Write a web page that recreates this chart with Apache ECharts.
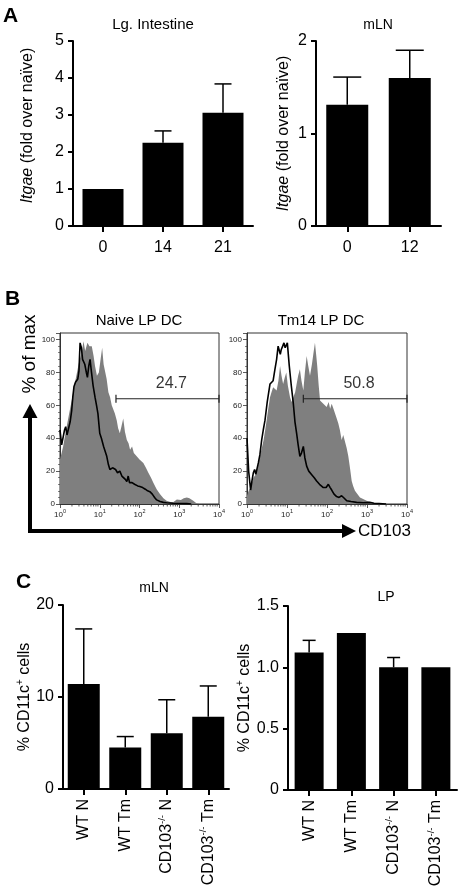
<!DOCTYPE html>
<html><head><meta charset="utf-8">
<script src="https://cdn.jsdelivr.net/npm/echarts@6/dist/echarts.min.js"></script>
<style>html,body{margin:0;padding:0;background:#fff}#c{width:460px;height:892px}</style>
</head><body><div id="c"></div>
<script>
const FONT = '"Liberation Sans", Arial, Helvetica, sans-serif';

// ---------- Panel A ----------
const a1Categories = ['0', '14', '21'];
const a1Values = [1.0, 2.25, 3.06];
const a1Errors = [0, 0.32, 0.78];
const a1YTicks = [0, 1, 2, 3, 4, 5];

const a2Categories = ['0', '12'];
const a2Values = [1.31, 1.60];
const a2Errors = [0.30, 0.30];
const a2YTicks = [0, 1, 2];

// ---------- Panel B (histograms, CD103 on log axis, % of max) ----------
const naiveGray = [[1,27],[1.2,35],[1.47,47],[1.7,55],[1.97,63],[2.3,72],[2.63,79],[3.0,86],[3.5,92],[3.9,99],[4.3,93],[4.9,98],[5.5,96],[6.3,96],[7.0,90],[7.6,84],[8.5,78],[9.5,80],[10.5,88],[11.5,95],[12.5,85],[14.9,76],[16.5,68],[18.2,65],[20,60],[22,59],[24,55],[26.7,51],[29,46],[32,43],[35,47],[39,52],[43,44],[48,39],[53,37],[58,33],[65,35],[72,31],[85,29],[100,27],[125,25],[145,22],[167,19],[195,16],[223,13],[270,9],[330,6],[400,3.5],[480,2],[600,1.2],[700,1],[870,2.8],[1100,2.5],[1300,3.5],[1550,4],[1800,3.5],[2250,2],[2700,0.5],[3200,0],[10000,0]];
const naiveLine = [[1,45],[1.1,36],[1.21,37],[1.3,45],[1.39,47],[1.5,42],[1.62,41],[1.8,50],[1.97,57],[2.1,65],[2.25,71.5],[2.45,74],[2.63,73],[2.8,76],[3.0,81],[3.2,98],[3.45,95],[3.7,88],[4.2,85],[4.6,80],[4.9,77],[5.3,84],[5.7,88],[6.2,80],[6.8,72],[7.6,65],[8.3,60],[9.0,55],[10,43],[11,40],[12.5,35],[15,29],[16.5,24],[18,21],[21,22],[25,21],[28,19],[32,20],[36,17],[40,16],[44,15],[48,13.6],[52,17],[56,13],[65,13],[75,12],[90,11],[102,10.6],[120,10],[140,9],[160,8],[182,7.5],[210,6],[240,4],[270,2.5],[330,1.5],[400,1],[480,0.8],[700,0.5],[1000,0.3],[1550,0.2],[2000,0]];
const tmGray = [[1,5],[1.1,8],[1.23,10],[1.44,16],[1.66,18],[1.9,24],[2.1,29],[2.35,34],[2.6,39],[2.85,45],[3.1,51],[3.4,58],[3.76,65],[4.1,68],[4.5,71],[5.0,70],[5.5,69],[6.1,75],[6.7,84],[7.3,78],[8.0,73],[8.8,77],[9.6,80],[10.5,72],[11.9,65],[13,62],[14.4,63],[16,68],[17.4,73],[19,78],[21,82],[23,75],[25.6,69],[28,80],[31,90],[34,84],[37.6,78],[42,85],[46,92],[50,98],[54,90],[57,84],[62,72],[67,63],[74,64],[81,61],[90,60],[98,59],[110,62],[120,58],[131,61],[145,58],[158,57],[175,52],[192,49],[210,45],[232,39],[255,42],[282,41],[310,34],[341,29],[375,22],[414,14],[450,11],[500,8],[580,6],[668,4],[800,3],[980,2],[1200,1],[1500,0.5],[2000,0],[10000,0]];
const tmLine = [[1,40],[1.1,20],[1.23,8.5],[1.33,14],[1.44,19],[1.55,21],[1.66,18],[1.8,22],[1.92,25],[2.1,30],[2.33,39],[2.55,45],[2.82,51],[3.2,62],[3.76,73],[4.1,74],[4.5,75],[5.0,82],[5.5,88],[6.0,96],[6.4,95],[6.8,91],[7.2,94],[7.8,96],[8.4,98],[9.0,95],[9.4,96],[10.2,98],[11.4,84],[12.8,72],[14.4,61],[15.8,50],[17.4,43],[19,36],[21,29],[23,31],[25.6,35],[28,28],[31,23],[35,20],[41,18],[48,16],[55,14],[65,12],[81,10],[95,10],[108,12],[120,10],[131,8.5],[150,6],[174,4.5],[200,4],[232,5],[270,3.5],[311,2],[400,1.5],[550,1],[800,0.8],[1170,1],[1500,0.5],[2000,0.3],[3000,0]];
const histTitles = ['Naive LP DC', 'Tm14 LP DC'];
const gateRanges = [[25.6, 10000], [25.6, 10000]];
const gateLevel = [64, 64];
const gateLabels = ['24.7', '50.8'];
const histYTicks = [0, 20, 40, 60, 80, 100];
const histDecades = [1, 10, 100, 1000, 10000];

// ---------- Panel C ----------
const cCategories = ['WT N', 'WT Tm', 'CD103-/- N', 'CD103-/- Tm'];
const c1Values = [11.4, 4.5, 6.05, 7.85];
const c1Errors = [6.0, 1.2, 3.65, 3.35];
const c1YTicks = [0, 10, 20];
const c2Values = [1.12, 1.28, 1.0, 1.0];
const c2Errors = [0.10, 0, 0.08, 0];
const c2YTicks = [0, 0.5, 1.0, 1.5];

// ---------- helpers ----------
const supRich = {
  n: {fontFamily: FONT, fontSize: 16, color: '#000', verticalAlign: 'middle', lineHeight: 19},
  sup: {fontFamily: FONT, fontSize: 9.5, color: '#000', verticalAlign: 'top', lineHeight: 19},
  t: {fontFamily: FONT, fontSize: 16, color: '#000', verticalAlign: 'middle', lineHeight: 19},
  tsup: {fontFamily: FONT, fontSize: 10, color: '#000', verticalAlign: 'top', lineHeight: 19},
  i: {fontFamily: FONT, fontSize: 16, fontStyle: 'italic', color: '#000', verticalAlign: 'middle', lineHeight: 19}
};

function errRender(capHalf) {
  return function (params, api) {
    const i = api.value(0), v = api.value(1), e = api.value(2);
    if (!e) return null;
    const p0 = api.coord([i, v]);
    const p1 = api.coord([i, v + e]);
    return {type: 'group', children: [
      {type: 'line', shape: {x1: p0[0], y1: p0[1], x2: p1[0], y2: p1[1]}, style: {stroke: '#000', lineWidth: 1.5}},
      {type: 'line', shape: {x1: p1[0] - capHalf, y1: p1[1], x2: p1[0] + capHalf, y2: p1[1]}, style: {stroke: '#000', lineWidth: 1.5}}
    ]};
  };
}

function minorLogRender(params, api) {
  const p = api.coord([api.value(0), 0]);
  return {type: 'line', shape: {x1: p[0], y1: p[1], x2: p[0], y2: p[1] + 2.5}, style: {stroke: '#333', lineWidth: 0.8}};
}
const minorLogTicks = [];
histDecades.slice(0, -1).forEach(d => { for (let m = 2; m <= 9; m++) minorLogTicks.push([m * d, 0]); });

function barYAxis(grid, ticks, name, nameGap, fmt, namePad) {
  return {
    type: 'value', gridIndex: grid, min: ticks[0], max: ticks[ticks.length - 1],
    interval: ticks[1] - ticks[0],
    axisLine: {show: true, lineStyle: {color: '#000', width: 2}},
    axisTick: {show: true, length: 5, lineStyle: {color: '#000', width: 2}},
    splitLine: {show: false},
    axisLabel: {fontFamily: FONT, fontSize: 16, color: '#000', margin: 9, formatter: fmt},
    name: name, nameLocation: 'middle', nameRotate: 90, nameGap: nameGap,
    nameTextStyle: {fontFamily: FONT, fontSize: 16, color: '#000', rich: supRich, padding: namePad || 0}
  };
}
function barXAxis(grid, cats, opts) {
  return Object.assign({
    type: 'category', gridIndex: grid, data: cats,
    axisLine: {show: true, lineStyle: {color: '#000', width: 2}},
    axisTick: {show: true, alignWithLabel: true, length: 6, lineStyle: {color: '#000', width: 2}},
    axisLabel: {fontFamily: FONT, fontSize: 16, color: '#000', margin: 14},
    splitLine: {show: false}
  }, opts || {});
}
function histXAxis(grid) {
  return {
    type: 'log', logBase: 10, gridIndex: grid, min: histDecades[0], max: histDecades[histDecades.length - 1],
    axisLine: {show: true, lineStyle: {color: '#333', width: 1}},
    axisTick: {show: true, length: 4, lineStyle: {color: '#333', width: 0.8}},
    splitLine: {show: false},
    axisLabel: {margin: 4, color: '#222', fontFamily: FONT, fontSize: 8,
      formatter: v => '{b|10}{s|' + Math.round(Math.log10(v)) + '}',
      rich: {b: {fontFamily: FONT, fontSize: 8, color: '#222', verticalAlign: 'bottom', lineHeight: 11},
             s: {fontFamily: FONT, fontSize: 5.5, color: '#222', verticalAlign: 'top', lineHeight: 11}}}
  };
}
function histYAxis(grid) {
  return {
    type: 'value', gridIndex: grid, min: 0, max: 104, interval: histYTicks[1] - histYTicks[0],
    axisLine: {show: true, lineStyle: {color: '#333', width: 1}},
    axisTick: {show: true, length: 4, lineStyle: {color: '#333', width: 0.8}},
    minorTick: {show: true, splitNumber: 5, length: 2, lineStyle: {color: '#333', width: 0.6}},
    splitLine: {show: false},
    axisLabel: {margin: 5, color: '#222', fontFamily: FONT, fontSize: 8,
      formatter: v => histYTicks.indexOf(v) >= 0 ? String(v) : ''}
  };
}
function histSeries(ax, gray, line, gi) {
  const r = gateRanges[gi];
  const mid = Math.sqrt(r[0] * r[1]) * 1.25;
  return [
    {type: 'line', xAxisIndex: ax, yAxisIndex: ax, data: gray, showSymbol: false, symbol: 'none',
     lineStyle: {width: 0}, areaStyle: {color: '#7f7f7f', opacity: 1}, z: 2, silent: true},
    {type: 'line', xAxisIndex: ax, yAxisIndex: ax, data: line, showSymbol: false, symbol: 'none',
     lineStyle: {width: 1.6, color: '#000'}, z: 3, silent: true},
    {type: 'custom', xAxisIndex: ax, yAxisIndex: ax, data: minorLogTicks, renderItem: minorLogRender, encode: {x: 0, y: 1}, z: 4, silent: true},
    {type: 'line', xAxisIndex: ax, yAxisIndex: ax, data: [[r[0], gateLevel[gi]], [r[1], gateLevel[gi]]],
     symbol: 'rect', symbolSize: [1.2, 8], showSymbol: true, clip: false,
     itemStyle: {color: '#222'}, lineStyle: {color: '#222', width: 1.2}, z: 5, silent: true},
    {type: 'scatter', xAxisIndex: ax, yAxisIndex: ax, data: [[mid, gateLevel[gi]]], symbolSize: 0,
     label: {show: true, position: 'top', distance: 7, formatter: gateLabels[gi], fontFamily: FONT, fontSize: 16, color: '#000'}, z: 6, silent: true}
  ];
}

const cLabelFmt = v => {
  const idx = v.indexOf('-/-');
  if (idx < 0) return '{n|' + v + '}';
  return '{n|' + v.slice(0, idx) + '}{sup|-/-}{n|' + v.slice(idx + 3) + '}';
};

const itgaeName = '{i|Itgae}{t| (fold over naïve)}';
const cd11cName = '{t|% CD11c}{tsup|+}{t| cells}';

const option = {
  animation: false,
  backgroundColor: '#fff',
  textStyle: {fontFamily: FONT},
  grid: [
    {left: 73, top: 41, width: 180, height: 185},
    {left: 316, top: 41, width: 125, height: 185},
    {left: 60, top: 333, width: 159, height: 171, show: true, borderColor: '#333', borderWidth: 1, backgroundColor: 'transparent'},
    {left: 247, top: 333, width: 160, height: 171, show: true, borderColor: '#333', borderWidth: 1, backgroundColor: 'transparent'},
    {left: 63, top: 605, width: 166, height: 184},
    {left: 288, top: 606, width: 169, height: 184}
  ],
  xAxis: [
    barXAxis(0, a1Categories),
    barXAxis(1, a2Categories),
    histXAxis(2),
    histXAxis(3),
    barXAxis(4, cCategories, {axisLabel: {rotate: 90, margin: 10, formatter: cLabelFmt, rich: supRich}}),
    barXAxis(5, cCategories, {axisLabel: {rotate: 90, margin: 10, formatter: cLabelFmt, rich: supRich}})
  ],
  yAxis: [
    barYAxis(0, a1YTicks, itgaeName, 36, null, [0, 0, 0, 16]),
    barYAxis(1, a2YTicks, itgaeName, 23),
    histYAxis(2),
    histYAxis(3),
    barYAxis(4, c1YTicks, cd11cName, 24),
    barYAxis(5, c2YTicks, cd11cName, 28, v => v === 0 ? '0' : v.toFixed(1))
  ],
  series: [
    {type: 'bar', xAxisIndex: 0, yAxisIndex: 0, data: a1Values, barWidth: 41, itemStyle: {color: '#000'}, silent: true},
    {type: 'custom', xAxisIndex: 0, yAxisIndex: 0, data: a1Values.map((v, i) => [i, v, a1Errors[i]]), renderItem: errRender(8.5), encode: {x: 0, y: 1}, z: 5},
    {type: 'bar', xAxisIndex: 1, yAxisIndex: 1, data: a2Values, barWidth: 42, itemStyle: {color: '#000'}, silent: true},
    {type: 'custom', xAxisIndex: 1, yAxisIndex: 1, data: a2Values.map((v, i) => [i, v, a2Errors[i]]), renderItem: errRender(14), encode: {x: 0, y: 1}, z: 5},
    ...histSeries(2, naiveGray, naiveLine, 0),
    ...histSeries(3, tmGray, tmLine, 1),
    {type: 'bar', xAxisIndex: 4, yAxisIndex: 4, data: c1Values, barWidth: 32, itemStyle: {color: '#000'}, silent: true},
    {type: 'custom', xAxisIndex: 4, yAxisIndex: 4, data: c1Values.map((v, i) => [i, v, c1Errors[i]]), renderItem: errRender(8.5), encode: {x: 0, y: 1}, z: 5},
    {type: 'bar', xAxisIndex: 5, yAxisIndex: 5, data: c2Values, barWidth: 29, itemStyle: {color: '#000'}, silent: true},
    {type: 'custom', xAxisIndex: 5, yAxisIndex: 5, data: c2Values.map((v, i) => [i, v, c2Errors[i]]), renderItem: errRender(6.5), encode: {x: 0, y: 1}, z: 5}
  ],
  graphic: [
    {type: 'text', x: 3, y: 6, style: {text: 'A', font: 'bold 21px ' + FONT, fill: '#000'}},
    {type: 'text', x: 5, y: 289, style: {text: 'B', font: 'bold 21px ' + FONT, fill: '#000'}},
    {type: 'text', x: 16, y: 572, style: {text: 'C', font: 'bold 21px ' + FONT, fill: '#000'}},
    {type: 'text', x: 153, y: 25, style: {text: 'Lg. Intestine', font: '15px ' + FONT, fill: '#000', align: 'center', textAlign: 'center', verticalAlign: 'middle', textVerticalAlign: 'middle'}},
    {type: 'text', x: 378, y: 25, style: {text: 'mLN', font: '14px ' + FONT, fill: '#000', align: 'center', textAlign: 'center', verticalAlign: 'middle', textVerticalAlign: 'middle'}},
    {type: 'text', x: 139, y: 321, style: {text: histTitles[0], font: '15px ' + FONT, fill: '#000', align: 'center', textAlign: 'center', verticalAlign: 'middle', textVerticalAlign: 'middle'}},
    {type: 'text', x: 321, y: 321, style: {text: histTitles[1], font: '15px ' + FONT, fill: '#000', align: 'center', textAlign: 'center', verticalAlign: 'middle', textVerticalAlign: 'middle'}},
    {type: 'text', x: 154, y: 588, style: {text: 'mLN', font: '14px ' + FONT, fill: '#000', align: 'center', textAlign: 'center', verticalAlign: 'middle', textVerticalAlign: 'middle'}},
    {type: 'text', x: 386, y: 597, style: {text: 'LP', font: '14px ' + FONT, fill: '#000', align: 'center', textAlign: 'center', verticalAlign: 'middle', textVerticalAlign: 'middle'}},
    {type: 'text', x: 30, y: 354, rotation: Math.PI / 2, style: {text: '% of max', font: '19px ' + FONT, fill: '#000', align: 'center', textAlign: 'center', verticalAlign: 'middle', textVerticalAlign: 'middle'}},
    {type: 'text', x: 358, y: 531, style: {text: 'CD103', font: '17px ' + FONT, fill: '#000', align: 'left', textAlign: 'left', verticalAlign: 'middle', textVerticalAlign: 'middle'}},
    {type: 'polyline', shape: {points: [[30, 416], [30, 531], [344, 531]]}, style: {stroke: '#000', lineWidth: 4, fill: null, lineJoin: 'miter'}},
    {type: 'polygon', shape: {points: [[30, 404], [22.5, 418], [37.5, 418]]}, style: {fill: '#000'}},
    {type: 'polygon', shape: {points: [[356, 531], [342, 524], [342, 538]]}, style: {fill: '#000'}}
  ]
};

const chart = echarts.init(document.getElementById('c'));
chart.setOption(option);
</script>
</body></html>
